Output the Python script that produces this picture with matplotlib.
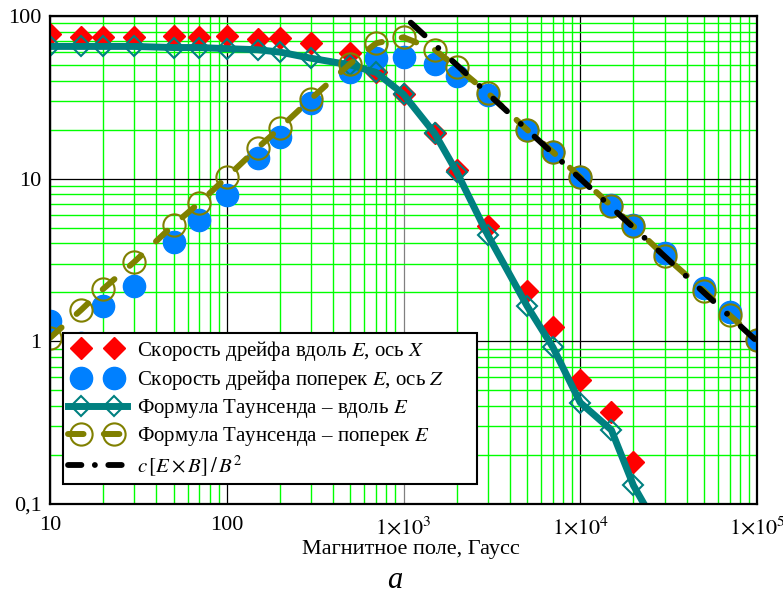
import numpy as np
import matplotlib
matplotlib.use('Agg')
import matplotlib.pyplot as plt
from matplotlib.ticker import LogLocator, NullFormatter
from matplotlib.lines import Line2D
from matplotlib.legend_handler import HandlerLine2D

plt.rcParams['font.family'] = ['Liberation Serif', 'DejaVu Serif']
plt.rcParams['mathtext.fontset'] = 'stix'

# магнитное поле, Гаусс
B = [10, 15, 20, 30, 50, 70, 100, 150, 200, 300, 500, 700, 1000, 1500, 2000,
     3000, 5000, 7000, 1e4, 1.5e4, 2e4, 3e4, 5e4, 7e4, 1e5]

# скорость дрейфа вдоль E (ось X), измерение
B_x = B[:21]
v_x = [77, 74, 74, 74, 75, 74, 75, 72, 73, 68, 59, 45, 33, 19, 11.3,
       5.1, 2.05, 1.22, 0.58, 0.37, 0.18]

# скорость дрейфа поперек E (ось Z), измерение
v_z = [1.33, 0.97, 1.65, 2.2, 4.1, 5.6, 7.9, 13.4, 18, 29, 45, 55, 56, 51, 43,
       32.7, 20, 14.6, 10.2, 6.9, 5.2, 3.5, 2.13, 1.52, 1.02]

# формула Таунсенда - вдоль E (последняя точка только для линии)
B_tx = B[:21] + [25000]
v_tx = [65, 65, 65, 65, 64, 64, 63, 62, 60, 55, 50, 45, 33, 19, 11,
        4.5, 1.65, 0.92, 0.42, 0.285, 0.13, 0.085]

# формула Таунсенда - поперек E
v_tz = [1.05, 1.56, 2.1, 3.08, 5.2, 7.1, 10.2, 15.5, 20.5, 31, 51, 68, 74, 62, 48.6,
        33.6, 20, 14.6, 10.2, 6.8, 5.1, 3.35, 2.05, 1.45, 1.02]

# c[E x B]/B^2
B_exb = [1100, 1e5]
v_exb = [91, 1.0]


class PaddedHandler(HandlerLine2D):
    # линия на всю длину, два маркера чуть внутри
    def create_artists(self, legend, orig_handle, xdescent, ydescent,
                       width, height, fontsize, trans):
        pad = 0.6 * fontsize
        x0 = -xdescent
        xdata = np.array([x0, x0 + pad, x0 + width - pad, x0 + width])
        ydata = np.full_like(xdata, (height - ydescent) / 2)
        line = Line2D(xdata, ydata, markevery=[1, 2])
        self.update_prop(line, orig_handle, legend)
        line.set_transform(trans)
        return [line]


fig = plt.figure(figsize=(7.83, 5.97), dpi=100)
ax = fig.add_axes([50 / 783, 93 / 597, 707 / 783, 488 / 597])

h1, = ax.plot(B_x, v_x, ls='none', marker='D', ms=11.5, color='#ff0000', mec='#ff0000',
              label=r'Скорость дрейфа вдоль $E$, ось $X$', zorder=3)
h2, = ax.plot(B, v_z, ls='none', marker='o', ms=16, color='#0080ff', mec='#0080ff',
              label=r'Скорость дрейфа поперек $E$, ось $Z$', zorder=4)
h3, = ax.plot(B_tx, v_tx, color='#008080', lw=5, marker='D', ms=10, mfc='none',
              mec='#008080', mew=1.5, markevery=list(range(21)),
              label=r'Формула Таунсенда – вдоль $E$', zorder=5)
h4, = ax.plot(B, v_tz, color='#808000', lw=4.3, dashes=(2.6, 3.4), dash_capstyle='round',
              marker='o', ms=16, mfc='none', mec='#808000', mew=1.5,
              label=r'Формула Таунсенда – поперек $E$', zorder=6)
ax.plot(B_exb, v_exb, color='black', lw=4.2, dashes=(3.2, 3.2, 0.01, 3.2),
        dash_capstyle='round', zorder=7)
# в легенде штрих-пунктир короче
h5 = Line2D([], [], color='black', lw=4.2, dashes=(2.3, 2.3, 0.01, 2.3),
            dash_capstyle='round', label=r'$c\,[E\times B]\,/\,B^2$')

ax.set_xscale('log')
ax.set_yscale('log')
ax.set_xlim(10, 1e5)
ax.set_ylim(0.1, 100)

ax.xaxis.set_minor_locator(LogLocator(base=10, subs=np.arange(2, 10)))
ax.yaxis.set_minor_locator(LogLocator(base=10, subs=np.arange(2, 10)))
ax.xaxis.set_minor_formatter(NullFormatter())
ax.yaxis.set_minor_formatter(NullFormatter())
ax.set_xticks([10, 100, 1e3, 1e4, 1e5],
              labels=['10', '100', r'$1{\times}10^{3}$', r'$1{\times}10^{4}$', r'$1{\times}10^{5}$'])
ax.set_yticks([0.1, 1, 10, 100], labels=['0,1', '1', '10', '100'])
ax.tick_params(which='both', length=0, labelsize=16)
ax.tick_params(axis='x', pad=9)
ax.tick_params(axis='y', pad=6)

ax.grid(which='minor', color='#00ff00', lw=1.0)
ax.grid(which='major', color='black', lw=0.9)
ax.xaxis.get_gridlines()[2].set_color('#808080')
ax.set_axisbelow(True)
for s in ax.spines.values():
    s.set_linewidth(1.6)
    s.set_zorder(10)

ax.set_xlabel('Магнитное поле, Гаусс', fontsize=16, va='center')
ax.xaxis.set_label_coords(0.51, -0.094)

leg = ax.legend(handles=[h1, h2, h3, h4, h5],
                loc='lower left', bbox_to_anchor=(0.018, 0.041, 0.5856, 0.3),
                mode='expand', borderaxespad=0, numpoints=2, fontsize=15,
                handlelength=2.8, handletextpad=0.48, borderpad=0.27,
                labelspacing=0.25, fancybox=False, framealpha=1, edgecolor='black',
                handler_map={Line2D: PaddedHandler()})
leg.get_frame().set_linewidth(1.5)
leg.set_zorder(20)

fig.text(0.5045, 0.004, 'а', style='italic', fontsize=22, ha='center', va='bottom')

fig.savefig('out.png', dpi=100)
